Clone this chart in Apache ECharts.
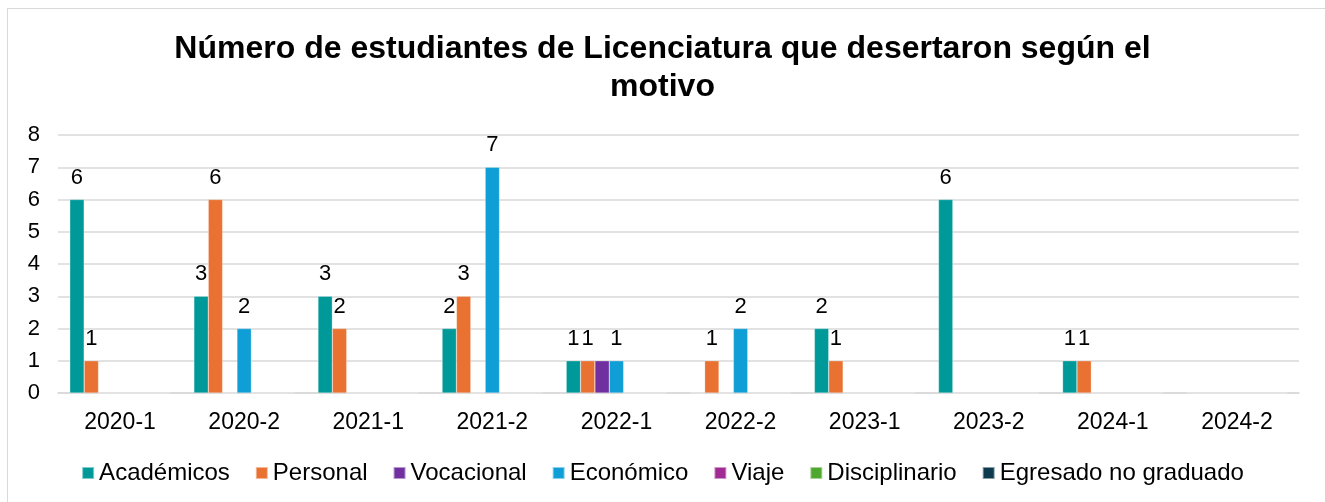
<!DOCTYPE html>
<html lang="es">
<head>
<meta charset="utf-8">
<title>Deserción por motivo</title>
<script src="https://cdn.jsdelivr.net/npm/echarts@6/dist/echarts.min.js"></script>
<style>
    html, body { margin: 0; padding: 0; background: #fff; overflow: hidden; }
    #frame {
        position: absolute; left: 7px; top: 8px;
        width: 1330px; height: 510px;
        border: 1px solid #d9d9d9; box-sizing: border-box;
    }
    #chart { position: absolute; left: 0; top: 0; width: 1325px; height: 502px; }
</style>
</head>
<body>
<div id="frame"></div>
<div id="chart"></div>
<script>
// 数据
const periodos = ['2020-1', '2020-2', '2021-1', '2021-2', '2022-1', '2022-2', '2023-1', '2023-2', '2024-1', '2024-2'];
const academicos    = [6, 3, 3, 2, 1, 0, 2, 6, 1, 0];
const personal      = [1, 6, 2, 3, 1, 1, 1, 0, 1, 0];
const vocacional    = [0, 0, 0, 0, 1, 0, 0, 0, 0, 0];
const economico     = [0, 2, 0, 7, 1, 2, 0, 0, 0, 0];
const viaje         = [0, 0, 0, 0, 0, 0, 0, 0, 0, 0];
const disciplinario = [0, 0, 0, 0, 0, 0, 0, 0, 0, 0];
const egresado      = [0, 0, 0, 0, 0, 0, 0, 0, 0, 0];

const FONT = 'Liberation Sans, Arial, sans-serif';

const seriesDefs = [
    { name: 'Académicos', data: academicos, color: '#009999', label: true },
    { name: 'Personal', data: personal, color: '#E97132', label: true },
    { name: 'Vocacional', data: vocacional, color: '#7030A0', label: false },
    { name: 'Económico', data: economico, color: '#0F9ED5', label: true },
    { name: 'Viaje', data: viaje, color: '#A02B93', label: true },
    { name: 'Disciplinario', data: disciplinario, color: '#4EA72E', label: true },
    { name: 'Egresado no graduado', data: egresado, color: '#0E3A50', label: true }
];

const chart = echarts.init(document.getElementById('chart'));

const option = {
    animation: false,
    title: {
        text: 'Número de estudiantes de Licenciatura que desertaron según el\nmotivo',
        left: 'center',
        top: 25,
        textStyle: {
            fontFamily: FONT,
            fontSize: 32,
            fontWeight: 'bold',
            color: '#000',
            lineHeight: 38
        }
    },
    legend: {
        top: 456,
        left: 'center',
        itemWidth: 12,
        itemHeight: 12,
        itemGap: 25,
        icon: 'rect',
        textStyle: { fontFamily: FONT, fontSize: 24, color: '#000' },
        data: seriesDefs.map(s => s.name)
    },
    grid: {
        left: 58,
        right: 26,
        top: 135,
        bottom: 109,
        containLabel: false
    },
    xAxis: {
        type: 'category',
        data: periodos,
        axisTick: { show: false },
        axisLine: { lineStyle: { color: '#d9d9d9', width: 1.5 } },
        axisLabel: { fontFamily: FONT, fontSize: 23, color: '#000', margin: 18 }
    },
    yAxis: {
        type: 'value',
        min: 0,
        max: 8,
        interval: 1,
        axisLine: { show: false },
        axisTick: { show: false },
        axisLabel: { fontFamily: FONT, fontSize: 22, color: '#000', margin: 18 },
        splitLine: { lineStyle: { color: '#d9d9d9', width: 1.5 } }
    },
    series: seriesDefs.map(s => ({
        name: s.name,
        type: 'bar',
        data: s.data,
        barGap: '0%',
        barCategoryGap: '19%',
        itemStyle: { color: s.color, borderColor: 'rgba(255,255,255,0.5)', borderWidth: 0.5 },
        label: {
            show: s.label,
            position: 'top',
            distance: 11,
            fontFamily: FONT,
            fontSize: 22,
            color: '#000',
            formatter: p => (p.value ? String(p.value) : '')
        }
    }))
};

chart.setOption(option);
</script>
</body>
</html>
